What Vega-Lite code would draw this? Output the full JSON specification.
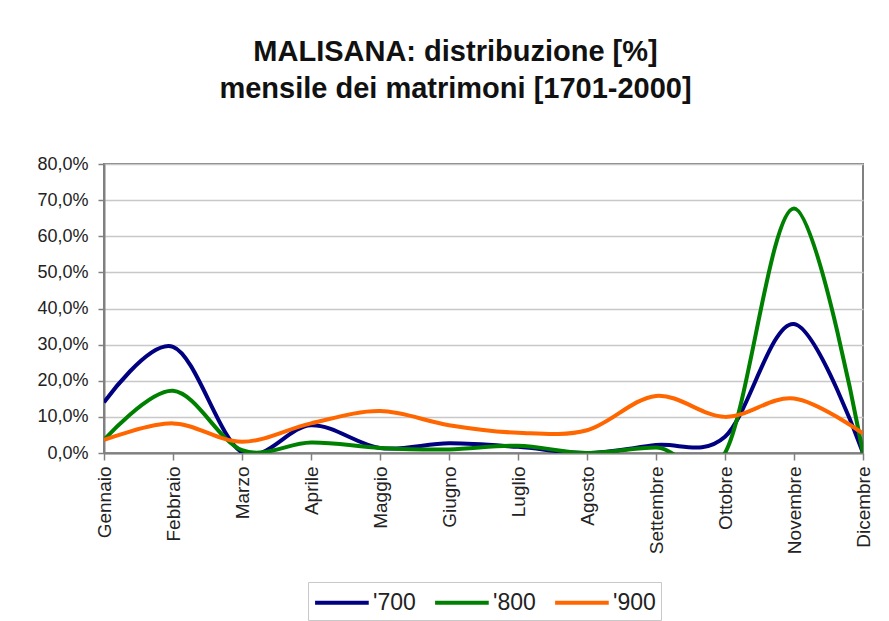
{
  "$schema": "https://vega.github.io/schema/vega-lite/v6.json",
  "width": 759,
  "height": 289,
  "autosize": "none",
  "padding": {"left": 104, "top": 164, "right": 26, "bottom": 168},
  "background": "white",
  "title": {
    "text": ["MALISANA: distribuzione [%]", "mensile dei matrimoni [1701-2000]"],
    "font": "Liberation Sans",
    "fontSize": 29,
    "fontWeight": "bold",
    "lineHeight": 37,
    "color": "#111111",
    "anchor": "middle",
    "dx": -28,
    "offset": 51
  },
  "data": {
    "values": [
      {"mese": "Gennaio", "serie": "'700", "valore": 0.140},
      {"mese": "Febbraio", "serie": "'700", "valore": 0.294},
      {"mese": "Marzo", "serie": "'700", "valore": 0.002},
      {"mese": "Aprile", "serie": "'700", "valore": 0.077},
      {"mese": "Maggio", "serie": "'700", "valore": 0.014},
      {"mese": "Giugno", "serie": "'700", "valore": 0.027},
      {"mese": "Luglio", "serie": "'700", "valore": 0.017},
      {"mese": "Agosto", "serie": "'700", "valore": 0.000},
      {"mese": "Settembre", "serie": "'700", "valore": 0.022},
      {"mese": "Ottobre", "serie": "'700", "valore": 0.045},
      {"mese": "Novembre", "serie": "'700", "valore": 0.357},
      {"mese": "Dicembre", "serie": "'700", "valore": 0.000},
      {"mese": "Gennaio", "serie": "'800", "valore": 0.036},
      {"mese": "Febbraio", "serie": "'800", "valore": 0.172},
      {"mese": "Marzo", "serie": "'800", "valore": 0.008},
      {"mese": "Aprile", "serie": "'800", "valore": 0.029},
      {"mese": "Maggio", "serie": "'800", "valore": 0.014},
      {"mese": "Giugno", "serie": "'800", "valore": 0.010},
      {"mese": "Luglio", "serie": "'800", "valore": 0.020},
      {"mese": "Agosto", "serie": "'800", "valore": 0.000},
      {"mese": "Settembre", "serie": "'800", "valore": 0.015},
      {"mese": "Ottobre", "serie": "'800", "valore": 0.000},
      {"mese": "Novembre", "serie": "'800", "valore": 0.677},
      {"mese": "Dicembre", "serie": "'800", "valore": 0.000},
      {"mese": "Gennaio", "serie": "'900", "valore": 0.036},
      {"mese": "Febbraio", "serie": "'900", "valore": 0.082},
      {"mese": "Marzo", "serie": "'900", "valore": 0.031},
      {"mese": "Aprile", "serie": "'900", "valore": 0.082},
      {"mese": "Maggio", "serie": "'900", "valore": 0.116},
      {"mese": "Giugno", "serie": "'900", "valore": 0.077},
      {"mese": "Luglio", "serie": "'900", "valore": 0.056},
      {"mese": "Agosto", "serie": "'900", "valore": 0.063},
      {"mese": "Settembre", "serie": "'900", "valore": 0.158},
      {"mese": "Ottobre", "serie": "'900", "valore": 0.100},
      {"mese": "Novembre", "serie": "'900", "valore": 0.151},
      {"mese": "Dicembre", "serie": "'900", "valore": 0.054}
    ]
  },
  "mark": {
    "type": "line",
    "interpolate": "cardinal",
    "tension": 0,
    "strokeWidth": 4,
    "clip": true
  },
  "encoding": {
    "x": {
      "field": "mese",
      "type": "ordinal",
      "sort": ["Gennaio", "Febbraio", "Marzo", "Aprile", "Maggio", "Giugno", "Luglio", "Agosto", "Settembre", "Ottobre", "Novembre", "Dicembre"],
      "scale": {"type": "point", "padding": 0},
      "axis": {
        "title": null,
        "labelAngle": -90,
        "labelFontSize": 19,
        "labelFont": "Liberation Sans",
        "labelColor": "#222222",
        "labelPadding": 6,
        "tickSize": 7,
        "tickColor": "#808080",
        "tickWidth": 1.5,
        "domainColor": "#808080",
        "domainWidth": 2,
        "grid": false
      }
    },
    "y": {
      "field": "valore",
      "type": "quantitative",
      "scale": {"domain": [0, 0.8], "nice": false},
      "axis": {
        "title": null,
        "values": [0, 0.1, 0.2, 0.3, 0.4, 0.5, 0.6, 0.7, 0.8],
        "labelExpr": "replace(format(datum.value, '.1%'), '.', ',')",
        "labelFontSize": 18,
        "labelFont": "Liberation Sans",
        "labelColor": "#222222",
        "labelPadding": 10,
        "tickSize": 6,
        "tickColor": "#808080",
        "tickWidth": 1.5,
        "domainColor": "#808080",
        "domainWidth": 2,
        "grid": true,
        "gridColor": "#c8c8c8",
        "gridWidth": 1.5
      }
    },
    "color": {
      "field": "serie",
      "type": "nominal",
      "scale": {"domain": ["'700", "'800", "'900"], "range": ["#000080", "#008000", "#FF6600"]},
      "legend": {
        "title": null,
        "orient": "none",
        "direction": "horizontal",
        "legendX": 204,
        "legendY": 418,
        "symbolType": "M-1,0H3",
        "symbolSize": 720,
        "symbolStrokeWidth": 4,
        "labelOffset": 29,
        "labelFontSize": 23,
        "labelFont": "Liberation Sans",
        "labelColor": "#222222",
        "columnPadding": 11,
        "padding": 5,
        "strokeColor": "#c8c8c8",
        "fillColor": "white"
      }
    }
  },
  "config": {
    "view": {"stroke": "#808080", "strokeWidth": 2}
  }
}
